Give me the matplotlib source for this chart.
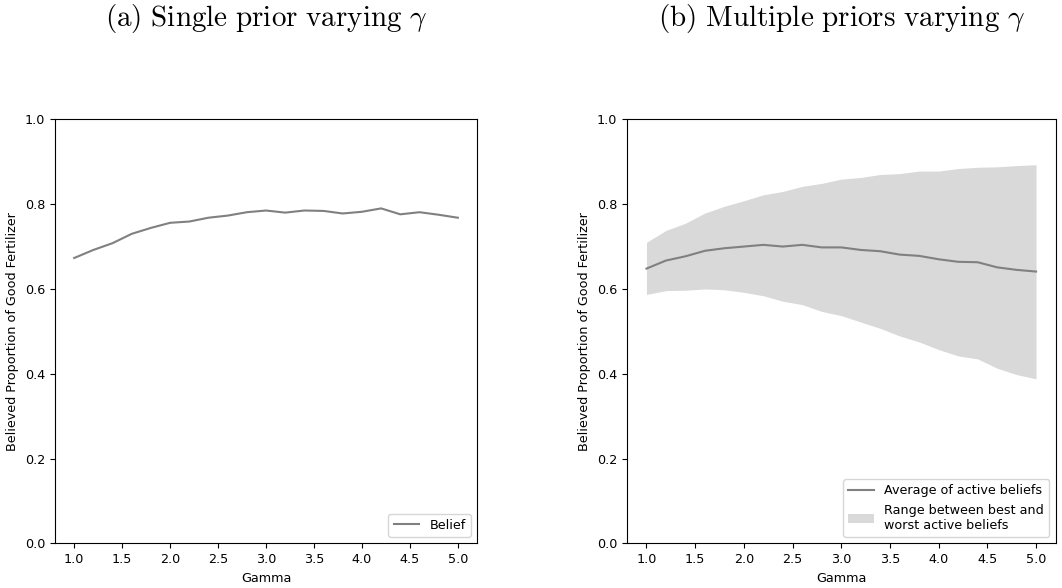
import numpy as np
import matplotlib
matplotlib.use('Agg')
import matplotlib.pyplot as plt

plt.rcParams['mathtext.fontset'] = 'cm'
plt.rcParams['font.size'] = 9.2

# gamma values on the x axis
gamma = [1.0, 1.2, 1.4, 1.6, 1.8, 2.0, 2.2, 2.4, 2.6, 2.8, 3.0,
         3.2, 3.4, 3.6, 3.8, 4.0, 4.2, 4.4, 4.6, 4.8, 5.0]

# (a) single prior belief
belief = [0.673, 0.692, 0.708, 0.730, 0.744, 0.756, 0.759, 0.768, 0.773, 0.781, 0.785,
          0.780, 0.785, 0.784, 0.778, 0.782, 0.790, 0.776, 0.781, 0.775, 0.768]

# (b) multiple priors: average, best and worst active beliefs
avg_belief = [0.648, 0.667, 0.677, 0.690, 0.696, 0.700, 0.704, 0.700, 0.704, 0.698, 0.698,
              0.692, 0.689, 0.681, 0.678, 0.670, 0.664, 0.663, 0.651, 0.645, 0.641]
best_belief = [0.710, 0.738, 0.755, 0.779, 0.795, 0.808, 0.822, 0.830, 0.842, 0.849, 0.859,
               0.863, 0.870, 0.872, 0.878, 0.878, 0.884, 0.887, 0.888, 0.891, 0.893]
worst_belief = [0.587, 0.596, 0.597, 0.600, 0.598, 0.592, 0.584, 0.571, 0.563, 0.547, 0.537,
                0.522, 0.507, 0.489, 0.475, 0.457, 0.442, 0.435, 0.413, 0.398, 0.388]

fig = plt.figure(figsize=(10.62, 5.88), dpi=100)
ax1 = fig.add_axes([0.0518, 0.076, 0.3974, 0.721])
ax2 = fig.add_axes([0.5904, 0.076, 0.4035, 0.721])

ax1.plot(gamma, belief, color='grey', label='Belief')
ax1.set_ylim(0, 1)
ax1.set_xlabel('Gamma')
ax1.set_ylabel('Believed Proportion of Good Fertilizer')
ax1.legend(loc='lower right')

ax2.plot(gamma, avg_belief, color='grey', label='Average of active beliefs')
ax2.fill_between(gamma, worst_belief, best_belief, color='#d9d9d9', linewidth=0,
                 label='Range between best and\nworst active beliefs')
ax2.set_ylim(0, 1)
ax2.set_xlabel('Gamma')
ax2.set_ylabel('Believed Proportion of Good Fertilizer')
ax2.legend(loc='lower right')

fig.text(0.2503, 0.968, r'$\mathrm{(a)\ Single\ prior\ varying}\ \gamma$',
         ha='center', va='center', fontsize=21)
fig.text(0.7921, 0.968, r'$\mathrm{(b)\ Multiple\ priors\ varying}\ \gamma$',
         ha='center', va='center', fontsize=21)

fig.savefig('out.png', dpi=100)
